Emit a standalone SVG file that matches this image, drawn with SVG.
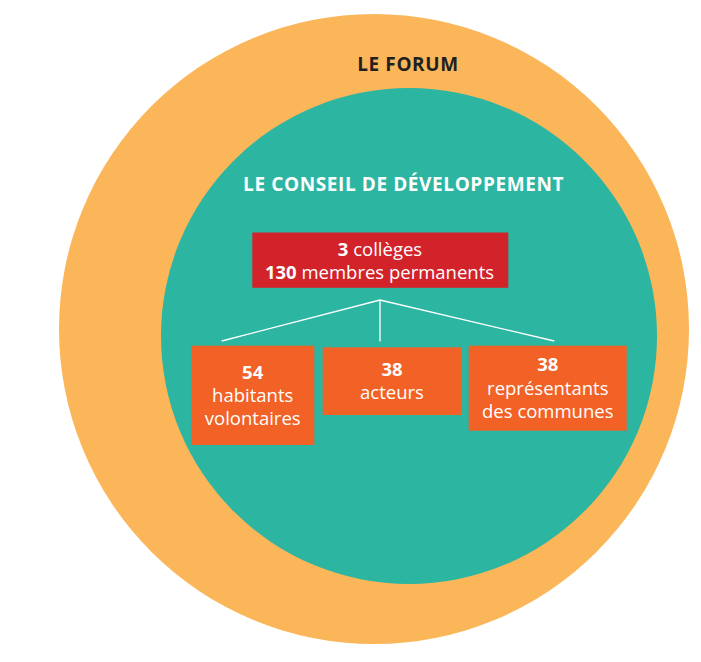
<svg xmlns="http://www.w3.org/2000/svg" width="701" height="662" viewBox="0 0 701 662">
<style>
text{font-family:"Open Sans","DejaVu Sans",sans-serif;text-anchor:middle;}
.t{font-weight:700;font-size:19px;letter-spacing:0.6px;}
.w{fill:#ffffff;font-size:18.5px;}
.b{font-weight:700;}
.box{fill:#F26125;}
.con{stroke:#ffffff;stroke-width:1.3;fill:none;}
</style>
<rect width="701" height="662" fill="#ffffff"/>
<g id="forum">
<circle cx="374" cy="329" r="315" fill="#FBB65A"/>
<text class="t" x="408" y="71" fill="#231F20">LE FORUM</text>
</g>
<g id="conseil">
<circle cx="409" cy="336" r="248" fill="#2CB5A1"/>
<text class="t" x="403.6" y="191" fill="#ffffff">LE CONSEIL DE DÉVELOPPEMENT</text>
</g>
<g id="connectors">
<path class="con" d="M221.7 341 L380 300 L554.3 341 M380 300 V341.5"/>
</g>
<g id="colleges">
<rect x="252.3" y="232.5" width="256" height="55.3" fill="#D2232A"/>
<text class="w" x="380" y="255.7"><tspan class="b">3</tspan> collèges</text>
<text class="w" x="379.5" y="279"><tspan class="b">130</tspan> membres permanents</text>
</g>
<g id="habitants">
<rect class="box" x="191" y="345.7" width="123.3" height="99.3"/>
<text class="w b" x="252.7" y="379.3">54</text>
<text class="w" x="252.7" y="401.7">habitants</text>
<text class="w" x="252.7" y="425">volontaires</text>
</g>
<g id="acteurs">
<rect class="box" x="322.7" y="347.3" width="138.3" height="67.7"/>
<text class="w b" x="392" y="376">38</text>
<text class="w" x="392" y="399.3">acteurs</text>
</g>
<g id="communes">
<rect class="box" x="468.7" y="345.7" width="158" height="85"/>
<text class="w b" x="547.8" y="371">38</text>
<text class="w" x="547.8" y="395">représentants</text>
<text class="w" x="547.8" y="418.3">des communes</text>
</g>
</svg>
